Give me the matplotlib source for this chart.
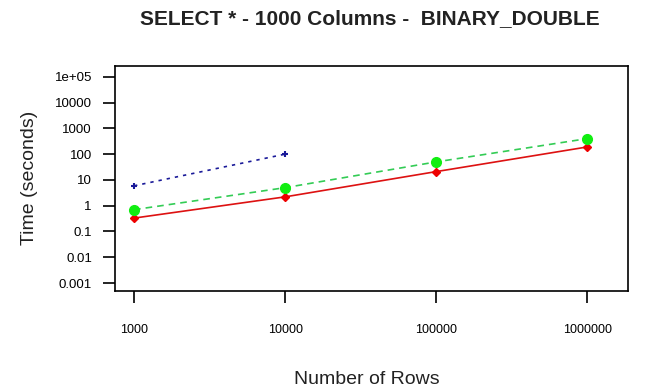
import matplotlib
matplotlib.use('Agg')
import matplotlib.pyplot as plt

plt.rcParams['font.family'] = ['Liberation Sans', 'DejaVu Sans']

# data
rows = [1000, 10000, 100000, 1000000]
red_times = [0.33, 2.2, 21, 190]
green_times = [0.7, 5.0, 50, 400]
blue_rows = [1000, 10000]
blue_times = [5.9, 100]

yticks = [1e-3, 1e-2, 1e-1, 1, 10, 100, 1000, 10000, 1e5]
ylabels = ['0.001', '0.01', '0.1', '1', '10', '100', '1000', '10000', '1e+05']
xlabels = ['1000', '10000', '100000', '1000000']

fig = plt.figure(figsize=(6.46, 3.90), dpi=100)
ax = fig.add_axes([115/646, 1 - 291/390, (628-115)/646, (291-66)/390])

ax.plot(rows, red_times, color='#dd1111', linestyle='-', linewidth=1.2,
        marker='D', markersize=4.5, markerfacecolor='#ee0000', markeredgecolor='#ee0000')
ax.plot(rows, green_times, color='#33cc55', linestyle=(0, (4, 3)), linewidth=1.2,
        marker='o', markersize=7, markerfacecolor='#11ee11', markeredgecolor='#11ee11')
ax.plot(blue_rows, blue_times, color='#1a1a99', linestyle=(0, (2, 3)), linewidth=1.2,
        marker='+', markersize=4, markeredgewidth=1.5, markeredgecolor='#1a1a99')

ax.set_xscale('log')
ax.set_yscale('log')
ax.set_xlim(10**2.874, 10**6.27)
ax.set_ylim(10**-3.31, 10**5.42)
ax.set_xticks(rows)
ax.set_xticklabels(xlabels, fontsize=9)
ax.set_yticks(yticks)
ax.set_yticklabels(ylabels, fontsize=9.5)
ax.minorticks_off()
ax.tick_params(axis='x', length=8.6, width=1.2, pad=15)
ax.tick_params(axis='y', length=8.6, width=1.2, pad=8)
for s in ax.spines.values():
    s.set_linewidth(1.2)

fig.text(30/646, 1 - 178/390, 'Time (seconds)', fontsize=14, rotation=90,
         ha='center', va='center', color='#222222')
fig.text(367/646, 1 - 379/390, 'Number of Rows', fontsize=14,
         ha='center', va='center', color='#222222')
fig.text(370/646, 1 - 19/390, 'SELECT * - 1000 Columns -  BINARY_DOUBLE', fontsize=15,
         fontweight='bold', ha='center', va='center', color='#222222')

fig.savefig('out.png', dpi=100)
